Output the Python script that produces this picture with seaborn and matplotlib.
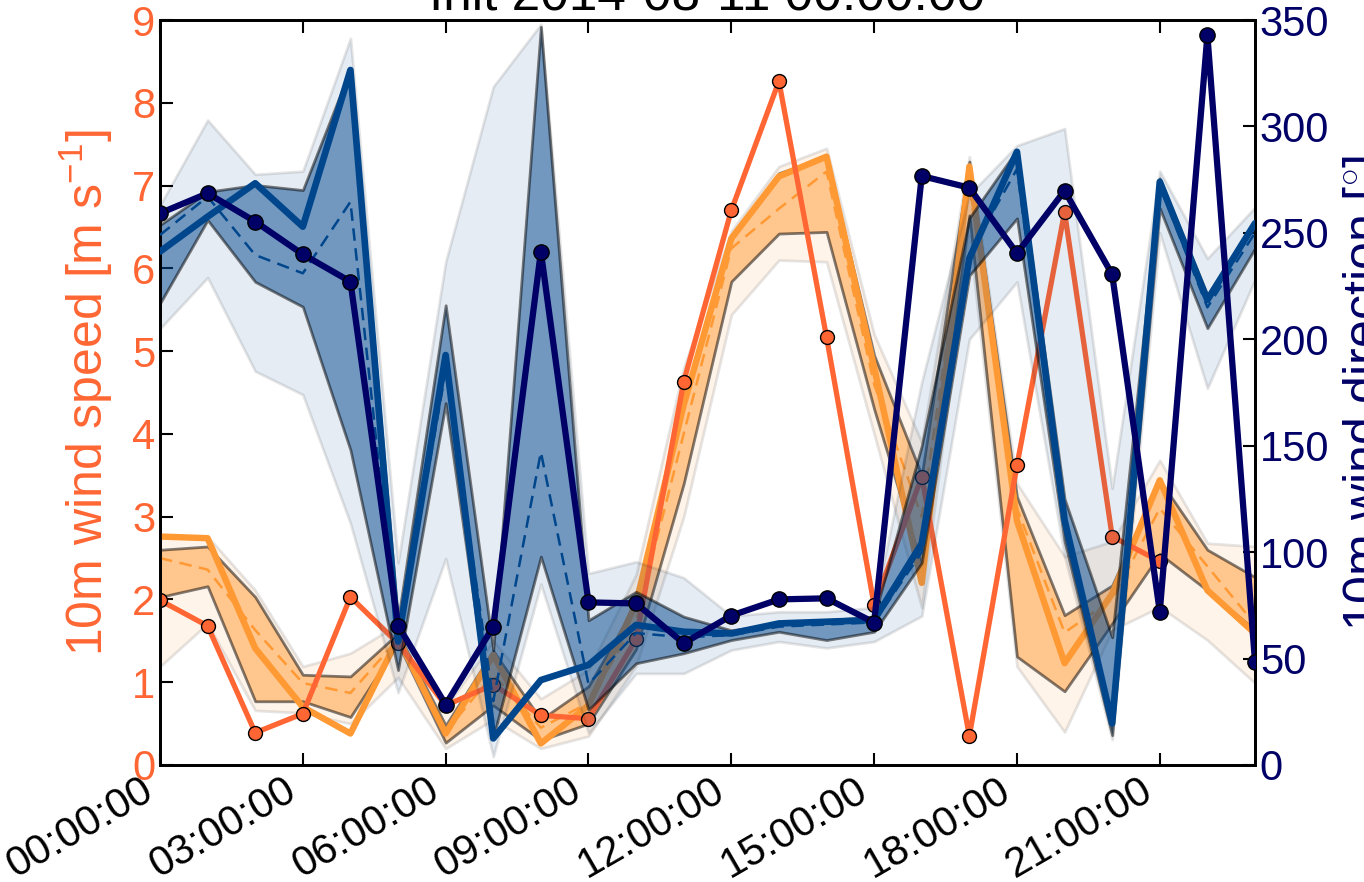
import numpy as np
import pandas as pd
import matplotlib
matplotlib.use("Agg")
import matplotlib.pyplot as plt
import matplotlib.dates as mdates
import seaborn as sns

# ---------------- data ----------------
hours = pd.date_range("2014-08-11 00:00", periods=24, freq="h")

# observed 10 m wind speed (m/s), available 00-21 h
spd_obs = [1.99, 1.68, 0.39, 0.62, 2.03, 1.47, 0.72, 0.97, 0.60, 0.56, 1.52, 4.63,
           6.70, 8.26, 5.17, 1.93, 3.48, 0.35, 3.62, 6.68, 2.76, 2.46]
# model control run
spd_ctrl = [2.76, 2.74, 1.41, 0.70, 0.38, 1.53, 0.38, 1.33, 0.26, 0.72, 1.95, 4.35,
            6.36, 7.11, 7.35, 4.80, 2.20, 7.23, 2.95, 1.23, 2.07, 3.44, 2.11, 1.59]
# ensemble median
spd_med = [2.50, 2.36, 1.63, 0.99, 0.87, 1.52, 0.40, 1.10, 0.45, 0.75, 1.75, 4.00,
           6.24, 6.72, 7.17, 4.60, 3.00, 7.00, 3.10, 1.60, 2.00, 3.10, 2.40, 1.70]
# inner band (quartiles)
spd_q1 = [2.03, 2.16, 0.77, 0.77, 0.58, 1.47, 0.27, 0.72, 0.30, 0.50, 1.40, 3.40,
          5.84, 6.42, 6.44, 4.30, 2.40, 6.64, 1.31, 0.89, 1.71, 2.55, 2.11, 1.63]
spd_q3 = [2.60, 2.64, 2.03, 1.09, 1.07, 1.59, 0.48, 1.38, 0.55, 0.95, 1.95, 4.40,
          6.36, 7.15, 7.35, 4.95, 3.50, 7.29, 3.24, 1.81, 2.17, 3.44, 2.60, 2.27]
# outer band (min / max)
spd_min = [1.19, 1.71, 0.66, 0.63, 0.50, 1.06, 0.20, 0.55, 0.20, 0.35, 1.20, 3.00,
           5.44, 6.10, 6.08, 4.00, 1.90, 6.40, 1.19, 0.40, 1.63, 1.91, 1.51, 0.99]
spd_max = [2.78, 2.76, 2.11, 1.19, 1.35, 1.70, 0.70, 1.50, 0.80, 1.15, 2.30, 4.80,
           6.45, 7.23, 7.45, 5.20, 3.90, 7.35, 3.40, 2.52, 2.70, 3.68, 2.68, 2.64]

# observed 10 m wind direction (deg)
dir_obs = [259.2, 268.6, 255.3, 239.9, 227.1, 65.5, 28.4, 65.0, 241.2, 76.4, 75.9, 57.2,
           70.2, 77.8, 78.3, 66.9, 276.7, 271.2, 240.4, 269.8, 230.5, 72.0, 342.9, 48.5]
dir_ctrl = [241.2, 257.6, 273.3, 252.9, 326.5, 58.0, 192.6, 12.5, 39.9, 47.0, 65.8, 62.6,
            61.8, 66.5, 67.3, 68.1, 104.1, 238.0, 288.1, 115.1, 19.6, 274.0, 218.5, 254.5]
dir_med = [249.0, 267.0, 239.6, 231.0, 264.6, 58.0, 185.0, 30.0, 147.0, 38.0, 62.0, 60.0,
           61.0, 65.0, 66.0, 67.0, 100.0, 240.0, 280.0, 112.0, 18.0, 272.0, 215.0, 250.0]
dir_q1 = [216.9, 256.0, 227.0, 215.3, 148.0, 44.6, 170.0, 13.0, 97.9, 26.0, 47.8, 52.5,
          58.7, 62.6, 58.7, 62.6, 95.0, 230.0, 256.8, 105.0, 14.0, 261.5, 205.2, 242.7]
dir_q3 = [253.7, 269.3, 272.5, 270.1, 327.0, 68.0, 216.0, 54.0, 346.8, 68.0, 81.4, 69.7,
          63.3, 66.5, 68.1, 69.7, 150.0, 257.0, 289.0, 125.0, 60.0, 275.6, 220.8, 255.2]
dir_min = [205.0, 229.0, 185.0, 174.0, 113.5, 34.0, 97.0, 4.0, 85.0, 15.0, 43.0, 43.0,
           54.0, 58.0, 55.0, 58.0, 70.0, 200.0, 227.0, 98.0, 12.0, 250.0, 177.0, 228.0]
dir_max = [263.0, 303.0, 277.5, 279.0, 341.4, 95.0, 236.4, 318.7, 348.0, 90.0, 95.5, 88.0,
           70.0, 72.0, 72.0, 74.0, 180.0, 268.0, 291.0, 299.0, 130.0, 279.0, 238.0, 262.0]

# ---------------- style ----------------
sns.set_style("ticks")
plt.rcParams["font.family"] = ["Liberation Sans", "DejaVu Sans"]
plt.rcParams["mathtext.fontset"] = "custom"
plt.rcParams["mathtext.rm"] = "Liberation Sans"
plt.rcParams["mathtext.it"] = "Liberation Sans:italic"
for k in ("text.color", "axes.labelcolor", "xtick.color", "ytick.color", "axes.edgecolor"):
    plt.rcParams[k] = "black"

C_OBS_S = "#FF6633"
C_MOD_S = "#FF9933"
C_OBS_D = "#000066"
C_MOD_D = "#00468C"

fig = plt.figure(figsize=(13.64, 8.82), dpi=100)
fig.patch.set_facecolor("white")
ax = fig.add_axes([160 / 1364, 117 / 882, 1095 / 1364, 745 / 882])
ax2 = ax.twinx()

# ---------------- wind speed (left) ----------------
ax.fill_between(hours, spd_min, spd_max, facecolor=C_MOD_S, edgecolor="k",
                alpha=0.1, linewidth=2, zorder=1)
ax.fill_between(hours, spd_q1, spd_q3, facecolor=C_MOD_S, edgecolor="k",
                alpha=0.5, linewidth=2, zorder=2)
sns.lineplot(x=hours, y=spd_med, ax=ax, color=C_MOD_S, linewidth=1.8,
             linestyle=(0, (5, 3)), zorder=3)
sns.lineplot(x=hours, y=spd_ctrl, ax=ax, color=C_MOD_S, linewidth=4.6, zorder=4)
sns.lineplot(x=hours[:len(spd_obs)], y=spd_obs, ax=ax, color=C_OBS_S, linewidth=3.8,
             marker="o", markersize=10, markerfacecolor=C_OBS_S,
             markeredgecolor="k", markeredgewidth=1, zorder=5)

# ---------------- wind direction (right) ----------------
ax2.fill_between(hours, dir_min, dir_max, facecolor=C_MOD_D, edgecolor="k",
                 alpha=0.1, linewidth=2, zorder=1)
ax2.fill_between(hours, dir_q1, dir_q3, facecolor=C_MOD_D, edgecolor="k",
                 alpha=0.5, linewidth=2, zorder=2)
sns.lineplot(x=hours, y=dir_med, ax=ax2, color=C_MOD_D, linewidth=1.8,
             linestyle=(0, (5, 3)), zorder=3)
sns.lineplot(x=hours, y=dir_ctrl, ax=ax2, color=C_MOD_D, linewidth=4.8, zorder=4)
sns.lineplot(x=hours, y=dir_obs, ax=ax2, color=C_OBS_D, linewidth=4.5,
             marker="o", markersize=11, markerfacecolor=C_OBS_D,
             markeredgecolor="k", markeredgewidth=1, zorder=5)

# ---------------- axes ----------------
ax.set_xlim(hours[0], hours[-1])
ax.set_ylim(0, 9)
ax2.set_ylim(0, 350)
ax.set_yticks(range(0, 10))
ax2.set_yticks(range(0, 351, 50))
ax.xaxis.set_major_locator(mdates.HourLocator(byhour=range(0, 24, 3)))
ax.xaxis.set_major_formatter(mdates.DateFormatter("%H:%M:%S"))

ax.tick_params(axis="both", direction="in", length=9, width=1.5, labelsize=30,
               colors="k")
ax.tick_params(axis="x", top=True, bottom=True, labelcolor="k")
ax.tick_params(axis="y", labelcolor=C_OBS_S)
ax2.tick_params(axis="y", direction="in", length=9, width=1.5, labelsize=30,
                colors="k", labelcolor=C_OBS_D)
plt.setp(ax.get_xticklabels(), rotation=30, ha="right")

for a in (ax, ax2):
    for sp in a.spines.values():
        sp.set_linewidth(2)
        sp.set_color("k")
        sp.set_visible(True)

ax.set_xlabel("")
ax.set_ylabel("10m wind speed [m s$^{-1}$]", color=C_OBS_S, fontsize=36, labelpad=12)
ax2.set_ylabel("10m wind direction [$^{\\circ}$]", color=C_OBS_D, fontsize=36,
               labelpad=8, rotation=90)
ax.set_title("Init 2014-08-11 00:00:00", fontsize=37, pad=6, color="k")

fig.savefig("out.png", dpi=100, facecolor="white")
